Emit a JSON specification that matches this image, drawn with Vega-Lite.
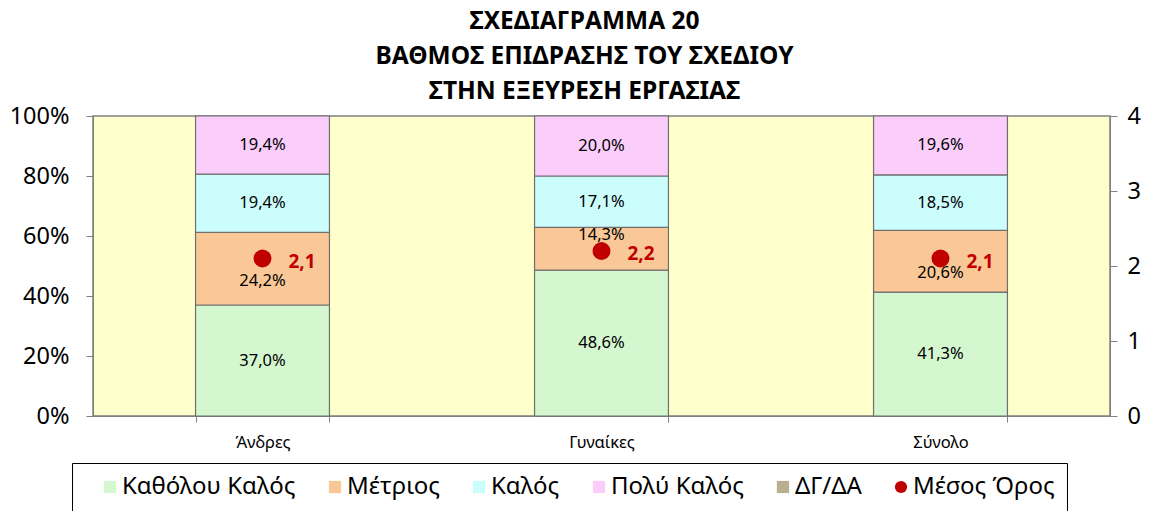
{
  "$schema": "https://vega.github.io/schema/vega-lite/v6.json",
  "width": 1017,
  "height": 300,
  "autosize": {"type": "none"},
  "padding": {"left": 93, "top": 116, "right": 44, "bottom": 95},
  "background": "white",
  "config": {
    "font": "Noto Sans",
    "locale": {"number": {"decimal": ",", "thousands": ".", "grouping": [3], "currency": ["", " €"]}},
    "view": {"fill": "#FFFFCC", "stroke": "#808080", "strokeWidth": 1.5}
  },
  "title": {
    "text": ["ΣΧΕΔΙΑΓΡΑΜΜΑ 20", "ΒΑΘΜΟΣ ΕΠΙΔΡΑΣΗΣ ΤΟΥ ΣΧΕΔΙΟΥ", "ΣΤΗΝ ΕΞΕΥΡΕΣΗ ΕΡΓΑΣΙΑΣ"],
    "fontSize": 24.5,
    "fontWeight": "bold",
    "lineHeight": 35,
    "anchor": "middle",
    "dx": -17,
    "offset": 0,
    "color": "black"
  },
  "datasets": {
    "dist": [
      {"group": "Άνδρες", "category": "Καθόλου Καλός", "ord": 1, "value": 0.370},
      {"group": "Άνδρες", "category": "Μέτριος", "ord": 2, "value": 0.242},
      {"group": "Άνδρες", "category": "Καλός", "ord": 3, "value": 0.194},
      {"group": "Άνδρες", "category": "Πολύ Καλός", "ord": 4, "value": 0.194},
      {"group": "Γυναίκες", "category": "Καθόλου Καλός", "ord": 1, "value": 0.486},
      {"group": "Γυναίκες", "category": "Μέτριος", "ord": 2, "value": 0.143},
      {"group": "Γυναίκες", "category": "Καλός", "ord": 3, "value": 0.171},
      {"group": "Γυναίκες", "category": "Πολύ Καλός", "ord": 4, "value": 0.200},
      {"group": "Σύνολο", "category": "Καθόλου Καλός", "ord": 1, "value": 0.413},
      {"group": "Σύνολο", "category": "Μέτριος", "ord": 2, "value": 0.206},
      {"group": "Σύνολο", "category": "Καλός", "ord": 3, "value": 0.185},
      {"group": "Σύνολο", "category": "Πολύ Καλός", "ord": 4, "value": 0.196}
    ],
    "mean": [
      {"group": "Άνδρες", "series": "Μέσος Όρος", "mean": 2.1},
      {"group": "Γυναίκες", "series": "Μέσος Όρος", "mean": 2.2},
      {"group": "Σύνολο", "series": "Μέσος Όρος", "mean": 2.1}
    ]
  },
  "encoding": {
    "x": {
      "field": "group",
      "type": "nominal",
      "sort": ["Άνδρες", "Γυναίκες", "Σύνολο"],
      "scale": {"paddingInner": 0.605, "paddingOuter": 0.3025},
      "axis": {
        "title": null,
        "labelAngle": 0,
        "labelFontSize": 16.5,
        "labelColor": "black",
        "labelPadding": 12,
        "tickBand": "extent",
        "tickSize": 6,
        "tickColor": "#808080",
        "domainColor": "#808080"
      }
    }
  },
  "layer": [
    {
      "data": {"name": "dist"},
      "mark": {"type": "bar", "stroke": "#6f6f6f", "strokeWidth": 1.2},
      "encoding": {
        "y": {
          "field": "value",
          "type": "quantitative",
          "stack": "zero",
          "scale": {"domain": [0, 1]},
          "axis": {
            "title": null,
            "format": ".0%",
            "values": [0, 0.2, 0.4, 0.6, 0.8, 1],
            "labelOverlap": false,
            "labelBound": false,
            "labelFlush": false,
            "grid": false,
            "labelFontSize": 23.5,
            "labelColor": "black",
            "tickSize": 7,
            "labelPadding": 17,
            "tickColor": "#808080",
            "domainColor": "#808080"
          }
        },
        "order": {"field": "ord", "type": "quantitative"},
        "color": {
          "field": "category",
          "type": "nominal",
          "scale": {
            "domain": ["Καθόλου Καλός", "Μέτριος", "Καλός", "Πολύ Καλός", "ΔΓ/ΔΑ", "Μέσος Όρος"],
            "range": ["#D4F7D0", "#FAC896", "#CCFDFD", "#FBCDFB", "#B8B090", "#C00000"]
          },
          "legend": {
            "title": " ",
            "titleOrient": "left",
            "titleFontSize": 10,
            "titlePadding": 14,
            "orient": "none",
            "legendX": -21,
            "legendY": 347,
            "direction": "horizontal",
            "columns": 6,
            "strokeColor": "#000000",
            "padding": 12,
            "labelFontSize": 24,
            "labelLimit": 400,
            "labelColor": "black",
            "symbolSize": 150,
            "symbolType": {"expr": "datum.value === 'Μέσος Όρος' ? 'circle' : 'square'"},
            "symbolStrokeWidth": 0,
            "columnPadding": 27,
            "labelOffset": 0,
            "encode": {
              "symbols": {
                "shape": {"signal": "datum.value === 'Μέσος Όρος' ? 'circle' : 'square'"},
                "size": {"signal": "datum.value === 'Μέσος Όρος' ? 300 : 150"}
              }
            }
          }
        }
      }
    },
    {
      "data": {"name": "dist"},
      "transform": [
        {"stack": "value", "groupby": ["group"], "sort": [{"field": "ord", "order": "ascending"}], "as": ["y0", "y1"]}
      ],
      "mark": {
        "type": "text",
        "fontSize": 16.5,
        "color": "black",
        "baseline": "middle",
        "dy": {"expr": "-150 * datum.value + (datum.category === 'Μέτριος' ? (datum.value < 0.16 ? -14 : 12) : 0)"}
      },
      "encoding": {
        "y": {"field": "y0", "type": "quantitative", "scale": {"domain": [0, 1]}, "axis": null},
        "text": {"field": "value", "type": "quantitative", "format": ".1%"}
      }
    },
    {
      "data": {"name": "mean"},
      "mark": {"type": "point", "filled": true, "shape": "circle", "size": 320, "opacity": 1},
      "encoding": {
        "y": {
          "field": "mean",
          "type": "quantitative",
          "scale": {"domain": [0, 4]},
          "axis": {
            "title": null,
            "orient": "right",
            "values": [0, 1, 2, 3, 4],
            "format": "d",
            "labelOverlap": false,
            "labelBound": false,
            "labelFlush": false,
            "grid": false,
            "labelFontSize": 23.5,
            "labelColor": "black",
            "tickSize": 7,
            "labelPadding": 10,
            "tickColor": "#808080",
            "domainColor": "#808080"
          }
        },
        "color": {"field": "series", "type": "nominal"}
      }
    },
    {
      "data": {"name": "mean"},
      "mark": {"type": "text", "fontSize": 19, "fontWeight": "bold", "color": "#C00000", "align": "left", "baseline": "middle", "dx": 26, "dy": 3},
      "encoding": {
        "y": {"field": "mean", "type": "quantitative", "scale": {"domain": [0, 4]}, "axis": null},
        "text": {"field": "mean", "type": "quantitative", "format": ".1f"}
      }
    }
  ],
  "resolve": {"scale": {"y": "independent"}}
}
